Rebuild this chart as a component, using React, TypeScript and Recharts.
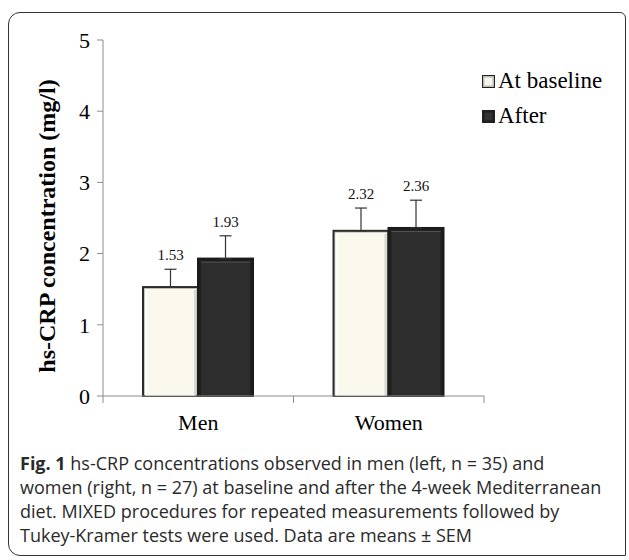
import { BarChart, Bar, XAxis, YAxis, ErrorBar, LabelList } from "recharts";

// values
const categories = ["Men", "Women"];
const baseline = [1.53, 2.32];
const after = [1.93, 2.36];
const baselineSem = [0.25, 0.32];
const afterSem = [0.32, 0.39];
const yTicks = [0, 1, 2, 3, 4, 5];

const data = categories.map((name, i) => ({
  name,
  baseline: baseline[i],
  after: after[i],
  baselineErr: [0, baselineSem[i]],
  afterErr: [0, afterSem[i]],
}));

const serif = "'Liberation Serif', 'DejaVu Serif', serif";
const axisGrey = "#8c8c8c";

function BevelBar(props: any) {
  const { x, y, width, height, dark } = props;
  if (!height || height <= 0) return null;
  if (dark) {
    return (
      <g>
        <rect x={x} y={y} width={width} height={height} fill="#1f1f1f" stroke="#1a1a1a" strokeWidth={2} />
        <rect x={x + 3} y={y + 3} width={width - 6} height={height - 3} fill="#2d2d2d" />
        <line x1={x + 3} y1={y + 3.5} x2={x + width - 3} y2={y + 3.5} stroke="#555" strokeWidth={1} />
      </g>
    );
  }
  return (
    <g>
      <rect x={x} y={y} width={width} height={height} fill="#c9c8c0" stroke="#2b2b2b" strokeWidth={2} />
      <rect x={x + 2} y={y + 2} width={width - 4} height={height - 2} fill="#fbf9ee" />
      <line x1={x + 3} y1={y + 3} x2={x + 3} y2={y + height} stroke="#ffffff" strokeWidth={2} />
      <line x1={x + width - 3} y1={y + 3} x2={x + width - 3} y2={y + height} stroke="#d8d7cf" strokeWidth={2} />
    </g>
  );
}

function makeValueLabel(sems: number[]) {
  return (props: any) => {
    const { x, y, width, height, value, index } = props;
    const pxPerUnit = height / value;
    const top = y - sems[index] * pxPerUnit;
    return (
      <text x={x + width / 2} y={top - 9} textAnchor="middle" fontFamily={serif} fontSize={15} fill="#111">
        {value.toFixed(2)}
      </text>
    );
  };
}

function CategoryTick(props: any) {
  const { x, y, payload } = props;
  const off = payload.offset ?? 95;
  return (
    <g>
      <line x1={x + off} y1={y} x2={x + off} y2={y + 7} stroke={axisGrey} />
      {payload.index === 0 && <line x1={x - off} y1={y} x2={x - off} y2={y + 7} stroke={axisGrey} />}
      <text x={x} y={y + 34} textAnchor="middle" fontFamily={serif} fontSize={22} fill="#000">
        {payload.value}
      </text>
    </g>
  );
}

function LegendIcon({ dark }: { dark: boolean }) {
  return (
    <svg width={13} height={13} style={{ marginRight: 3 }}>
      <rect x={0.5} y={0.5} width={12} height={12} fill={dark ? "#1f1f1f" : "#bdbdb5"} stroke="#222" />
      <rect x={2.5} y={2.5} width={8} height={8} fill={dark ? "#333" : "#f7f6ee"} />
    </svg>
  );
}

export default function App() {
  return (
    <div style={{ position: "absolute", left: 0, top: 0, width: 629, height: 560, background: "#fff" }}>
      <div
        style={{
          position: "absolute",
          left: 8,
          top: 12,
          width: 618,
          height: 544,
          border: "1.5px solid #333",
          borderRadius: "12px 6px 0 12px",
          boxSizing: "border-box",
        }}
      />
      <BarChart
        width={629}
        height={560}
        data={data}
        margin={{ top: 40, right: 145, bottom: 134, left: 63 }}
        barCategoryGap="21%"
        barGap={0}
        style={{ position: "absolute", left: 0, top: 0 }}
      >
        <XAxis
          dataKey="name"
          height={30}
          axisLine={{ stroke: axisGrey }}
          tickLine={false}
          tickSize={0}
          tickMargin={0}
          tick={<CategoryTick />}
        />
        <YAxis
          width={40}
          domain={[0, 5]}
          ticks={yTicks}
          axisLine={{ stroke: axisGrey }}
          tickLine={{ stroke: axisGrey }}
          tickSize={6}
          tickMargin={7}
          tick={{ fill: "#000", fontSize: 22, fontFamily: serif }}
        />
        <Bar dataKey="baseline" isAnimationActive={false} shape={<BevelBar dark={false} />}>
          <ErrorBar dataKey="baselineErr" direction="y" width={6} stroke="#333" strokeWidth={1.2} />
          <LabelList dataKey="baseline" content={makeValueLabel(baselineSem)} />
        </Bar>
        <Bar dataKey="after" isAnimationActive={false} shape={<BevelBar dark={true} />}>
          <ErrorBar dataKey="afterErr" direction="y" width={6} stroke="#333" strokeWidth={1.2} />
          <LabelList dataKey="after" content={makeValueLabel(afterSem)} />
        </Bar>
      </BarChart>
      <div
        style={{
          position: "absolute",
          left: 47,
          top: 226,
          transform: "translate(-50%, -50%) rotate(-90deg)",
          fontFamily: serif,
          fontWeight: "bold",
          fontSize: 24,
          whiteSpace: "nowrap",
          color: "#000",
        }}
      >
        hs-CRP concentration (mg/l)
      </div>
      <div style={{ position: "absolute", left: 482, top: 66, fontFamily: serif, fontSize: 23, color: "#000" }}>
        <div style={{ display: "flex", alignItems: "center", height: 30 }}>
          <LegendIcon dark={false} />
          At baseline
        </div>
        <div style={{ display: "flex", alignItems: "center", height: 30, marginTop: 5 }}>
          <LegendIcon dark={true} />
          After
        </div>
      </div>
      <div
        style={{
          position: "absolute",
          left: 20,
          top: 451,
          fontFamily: "'Open Sans', sans-serif",
          fontSize: 18,
          lineHeight: "24px",
          color: "#2a2a2a",
          whiteSpace: "nowrap",
        }}
      >
        <b>Fig. 1</b> hs-CRP concentrations observed in men (left, n = 35) and
        <br />
        women (right, n = 27) at baseline and after the 4-week Mediterranean
        <br />
        diet. MIXED procedures for repeated measurements followed by
        <br />
        Tukey-Kramer tests were used. Data are means ± SEM
      </div>
    </div>
  );
}
